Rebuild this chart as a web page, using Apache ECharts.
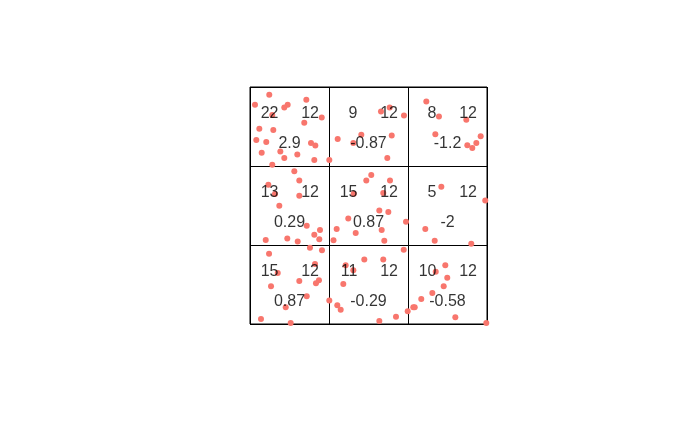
<!DOCTYPE html>
<html>
<head>
<meta charset="utf-8">
<script src="https://cdn.jsdelivr.net/npm/echarts@6/dist/echarts.min.js"></script>
<style>html,body{margin:0;padding:0;background:#fff;}#c{width:700px;height:432px;}</style>
</head>
<body>
<div id="c"></div>
<script>
// Points: x in [0,3] (column units), y in [0,3] (row units, from bottom)
const pointX = [0.244,0.713,0.063,0.477,0.434,0.908,0.687,0.282,0.118,0.295,0.080,0.206,0.772,0.827,0.148,0.384,0.599,0.434,0.814,1.004,0.282,0.561,
1.768,1.658,1.949,1.110,1.409,1.794,1.308,1.738,
2.232,2.392,2.738,2.346,2.920,2.865,2.751,2.814,
0.624,0.232,0.316,0.624,0.371,0.718,0.886,0.814,0.877,0.472,0.199,0.604,0.759,0.911,1.057,
1.535,1.472,1.772,1.313,1.687,1.637,1.751,1.244,1.975,1.097,1.338,1.667,1.700,1.946,
2.422,2.978,2.219,2.338,2.801,
0.241,0.823,0.351,0.873,0.835,0.624,0.266,0.718,1.004,0.452,0.139,0.515,
1.447,1.687,1.211,1.308,1.181,1.105,1.148,2.067,1.996,1.848,1.637,
2.472,2.351,2.497,2.452,2.308,2.168,2.085,2.599,2.991];
const pointY = [2.901,2.838,2.774,2.774,2.740,2.613,2.546,2.647,2.470,2.457,2.330,2.305,2.292,2.258,2.169,2.182,2.144,2.102,2.077,2.077,2.017,1.935,
2.740,2.689,2.639,2.343,2.394,2.385,2.292,2.102,
2.816,2.626,2.584,2.401,2.376,2.292,2.262,2.229,
1.818,1.763,1.645,1.624,1.497,1.243,1.189,1.129,1.074,1.082,1.062,1.044,0.964,0.935,1.059,
1.886,1.818,1.818,1.649,1.658,1.437,1.417,1.336,1.294,1.201,1.151,1.189,1.053,0.939,
1.738,1.564,1.201,1.053,1.015,
0.888,0.761,0.647,0.554,0.516,0.545,0.478,0.351,0.296,0.212,0.063,0.013,
0.816,0.816,0.745,0.681,0.507,0.237,0.181,0.212,0.161,0.093,0.038,
0.745,0.660,0.584,0.478,0.393,0.317,0.212,0.085,0.013];

// Cell texts, row-major from the top row
const leftNums  = ["22","9","8","13","15","5","15","11","10"];
const rightNums = ["12","12","12","12","12","12","12","12","12"];
const midVals   = ["2.9","-0.87","-1.2","0.29","0.87","-2","0.87","-0.29","-0.58"];

const leftData = [], rightData = [], midData = [];
for (let i = 0; i < 9; i++) {
  const col = i % 3, row = 2 - Math.floor(i / 3);
  leftData.push({value: [col + 0.36, row + 0.66], name: leftNums[i]});
  rightData.push({value: [col + 0.76, row + 0.66], name: rightNums[i]});
  midData.push({value: [col + 0.5, row + 0.285], name: midVals[i]});
}
const pts = pointX.map((x, i) => [x, pointY[i]]);

const textStyle = {show: true, position: 'inside', formatter: p => p.name, color: '#000',
  fontFamily: 'Liberation Sans, Arial, sans-serif', fontSize: 16, textBorderWidth: 0};

const chart = echarts.init(document.getElementById('c'), null, {renderer: 'canvas'});
chart.setOption({
  animation: false,
  backgroundColor: '#fff',
  grid: {left: 250, top: 87, width: 237, height: 237, show: true, borderColor: '#000', borderWidth: 1, backgroundColor: 'transparent'},
  xAxis: {type: 'value', min: 0, max: 3, interval: 1, axisLine: {show: false}, axisTick: {show: false}, axisLabel: {show: false},
    splitLine: {show: true, lineStyle: {color: '#000', width: 1}}},
  yAxis: {type: 'value', min: 0, max: 3, interval: 1, axisLine: {show: false}, axisTick: {show: false}, axisLabel: {show: false},
    splitLine: {show: true, lineStyle: {color: '#000', width: 1}}},
  series: [
    {type: 'scatter', data: pts, symbolSize: 6, itemStyle: {color: '#F8766D', opacity: 1}, z: 2, clip: false, silent: true},
    {type: 'scatter', data: leftData, symbolSize: 0, z: 5, silent: true, label: Object.assign({}, textStyle, {align: 'right', verticalAlign: 'middle'})},
    {type: 'scatter', data: rightData, symbolSize: 0, z: 5, silent: true, label: Object.assign({}, textStyle, {align: 'center', verticalAlign: 'middle'})},
    {type: 'scatter', data: midData, symbolSize: 0, z: 5, silent: true, label: Object.assign({}, textStyle, {align: 'center', verticalAlign: 'middle'})}
  ]
});
</script>
</body>
</html>
